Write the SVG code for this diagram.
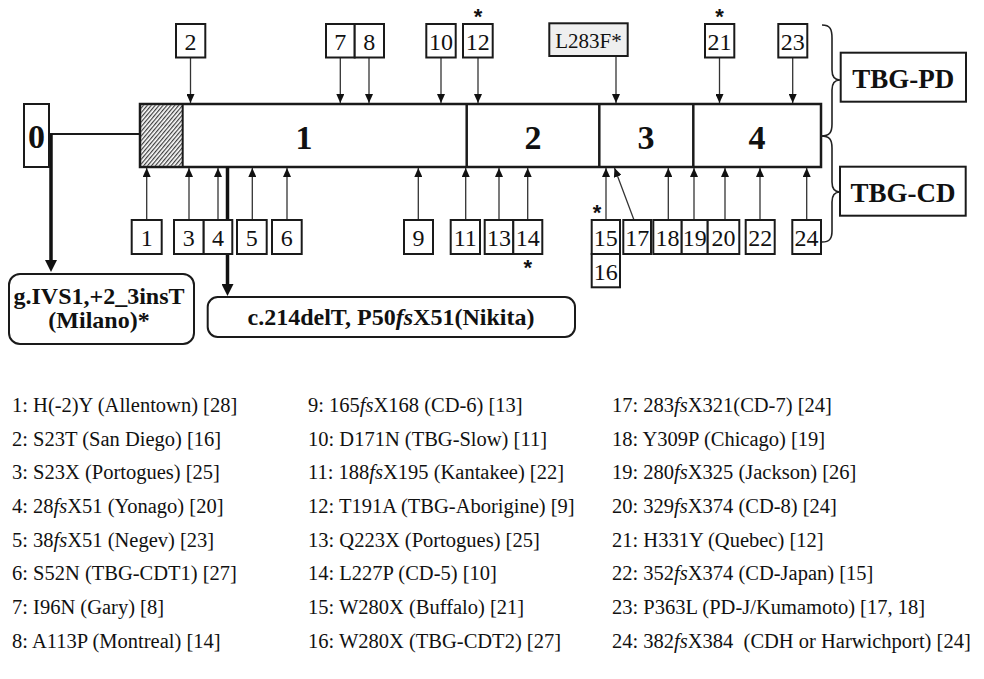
<svg xmlns="http://www.w3.org/2000/svg" width="984" height="679" viewBox="0 0 984 679">
<style>
.box{fill:#fff;stroke:#1a1a1a;stroke-width:2}
.gbox{fill:#efefef;stroke:#1a1a1a;stroke-width:2}
.rbox{fill:#fff;stroke:#1a1a1a;stroke-width:2}
.num{font-family:"Liberation Serif",serif;font-size:24px;text-anchor:middle;fill:#111}
.big{font-family:"Liberation Serif",serif;font-size:34px;font-weight:bold;text-anchor:middle;fill:#111}
.lab{font-family:"Liberation Serif",serif;font-size:27px;font-weight:bold;text-anchor:middle;fill:#111}
.mut{font-family:"Liberation Serif",serif;font-size:24px;font-weight:bold;text-anchor:middle;fill:#111}
.star{font-family:"Liberation Sans",sans-serif;font-size:22px;font-weight:bold;text-anchor:middle;fill:#111}
.leg{font-family:"Liberation Serif",serif;font-size:20.5px;fill:#111}
.it{font-style:italic}
.conn{stroke:#333;stroke-width:1.3;fill:none;marker-end:url(#ah)}
.thick{stroke:#111;stroke-width:3.5;fill:none;marker-end:url(#ahb)}
.line{stroke:#1a1a1a;stroke-width:2;fill:none}
.brace{stroke:#222;stroke-width:1.6;fill:none}
.bar{fill:#fff;stroke:#1a1a1a;stroke-width:2.5}
.div{stroke:#1a1a1a;stroke-width:2.5}
</style>
<defs>
<marker id="ah" markerUnits="userSpaceOnUse" markerWidth="9" markerHeight="8" refX="9" refY="4" orient="auto"><path d="M0,0 L9,4 L0,8 z" fill="#111"/></marker>
<marker id="ahb" markerUnits="userSpaceOnUse" markerWidth="12" markerHeight="12" refX="4" refY="6" orient="auto"><path d="M0,0 L12,6 L0,12 z" fill="#111"/></marker>
<pattern id="hatch" patternUnits="userSpaceOnUse" width="3" height="6" patternTransform="rotate(40)"><line x1="0.7" y1="0" x2="0.7" y2="6" stroke="#111" stroke-width="1"/></pattern>
</defs>

<g id="gene">
<rect class="bar" x="140" y="104" width="681" height="63"/>
<rect x="141.2" y="105.2" width="41.5" height="60.6" fill="url(#hatch)"/>
<line x1="182.7" y1="104" x2="182.7" y2="167" stroke="#1a1a1a" stroke-width="2"/>
<line class="div" x1="466.7" y1="104" x2="466.7" y2="167"/>
<line class="div" x1="599.3" y1="104" x2="599.3" y2="167"/>
<line class="div" x1="693.3" y1="104" x2="693.3" y2="167"/>
<text class="big" x="304" y="149">1</text>
<text class="big" x="533" y="149">2</text>
<text class="big" x="646" y="149">3</text>
<text class="big" x="757" y="149">4</text>
</g>

<g id="connectors">
<line class="line" x1="49" y1="134" x2="140" y2="134"/>
<path class="thick" d="M51,134 L51,264"/>
<path class="thick" d="M227.5,167 L227.5,288"/>
<path class="conn" d="M190.5,57 L190.5,103"/>
<path class="conn" d="M340.3,57 L340.3,103"/>
<path class="conn" d="M369,57 L369,103"/>
<path class="conn" d="M441,57 L441,103"/>
<path class="conn" d="M478,57 L478,103"/>
<path class="conn" d="M616,56 L616,103"/>
<path class="conn" d="M719.5,57 L719.5,103"/>
<path class="conn" d="M792.7,57 L792.7,103"/>
<path class="conn" d="M146.7,220 L146.7,168"/>
<path class="conn" d="M189,220 L189,168"/>
<path class="conn" d="M218,220 L218,168"/>
<path class="conn" d="M252.3,220 L252.3,168"/>
<path class="conn" d="M287,220 L287,168"/>
<path class="conn" d="M418.3,220 L418.3,168"/>
<path class="conn" d="M465.7,220 L465.7,168"/>
<path class="conn" d="M499,220 L499,168"/>
<path class="conn" d="M527.7,220 L527.7,168"/>
<path class="conn" d="M606,220 L606,168"/>
<path class="conn" d="M634,220 L614.5,168"/>
<path class="conn" d="M668.3,220 L668.3,168"/>
<path class="conn" d="M694,220 L694,168"/>
<path class="conn" d="M725,220 L725,168"/>
<path class="conn" d="M760,220 L760,168"/>
<path class="conn" d="M806.7,220 L806.7,168"/>
<path class="brace" d="M822,25 C830,25 832,29 832,38 L832,70 C832,77 835,80 840,80 C835,80 832,83 832,90 L832,124 C832,132 830,136 821,136"/>
<path class="brace" d="M821,136 C830,136 832,140 832,148 L832,182 C832,189 835,192 840,192 C835,192 832,195 832,202 L832,231 C832,238 830,242 822,242"/>
</g>

<g id="n0"><rect class="box" x="24" y="104" width="25" height="63"/><text class="big" x="36.5" y="148">0</text></g>

<g id="t2"><rect class="box" x="176" y="24" width="29.3" height="33.5"/><text class="num" x="190.6" y="50">2</text></g>
<g id="t7"><rect class="box" x="326" y="24" width="28.7" height="33.5"/><text class="num" x="340.3" y="50">7</text></g>
<g id="t8"><rect class="box" x="354.7" y="24" width="29.3" height="33.5"/><text class="num" x="369.3" y="50">8</text></g>
<g id="t10"><rect class="box" x="426.3" y="24" width="29.4" height="33.5"/><text class="num" x="441" y="50">10</text></g>
<g id="t12"><rect class="box" x="463" y="24" width="29.7" height="33.5"/><text class="num" x="477.8" y="50">12</text><text class="star" x="478" y="23.5">*</text></g>
<g id="tL283F"><rect class="gbox" x="549.3" y="23.3" width="78.4" height="32.7"/><text class="num" x="588.5" y="47.5" style="font-size:21px">L283F*</text></g>
<g id="t21"><rect class="box" x="705" y="24" width="29.3" height="33.5"/><text class="num" x="719.6" y="50">21</text><text class="star" x="719.5" y="23.5">*</text></g>
<g id="t23"><rect class="box" x="778.3" y="24" width="29" height="33.5"/><text class="num" x="792.8" y="50">23</text></g>

<g id="b1"><rect class="box" x="131.7" y="220" width="30" height="34"/><text class="num" x="146.7" y="246">1</text></g>
<g id="b3"><rect class="box" x="174" y="220" width="29.7" height="34"/><text class="num" x="188.8" y="246">3</text></g>
<g id="b4"><rect class="box" x="203.7" y="220" width="28.6" height="34"/><text class="num" x="218" y="246">4</text></g>
<g id="b5"><rect class="box" x="237" y="220" width="29.7" height="34"/><text class="num" x="251.8" y="246">5</text></g>
<g id="b6"><rect class="box" x="272" y="220" width="29.7" height="34"/><text class="num" x="286.8" y="246">6</text></g>
<g id="b9"><rect class="box" x="404" y="220" width="29" height="34"/><text class="num" x="418.5" y="246">9</text></g>
<g id="b11"><rect class="box" x="450.7" y="220" width="29.3" height="34"/><text class="num" x="465.3" y="246">11</text></g>
<g id="b13"><rect class="box" x="484.7" y="220" width="28.6" height="34"/><text class="num" x="499" y="246">13</text></g>
<g id="b14"><rect class="box" x="513.3" y="220" width="29" height="34"/><text class="num" x="527.8" y="246">14</text><text class="star" x="527.7" y="275">*</text></g>
<g id="b15"><rect class="box" x="591.7" y="220" width="28.3" height="34"/><text class="num" x="605.8" y="246">15</text><text class="star" x="597" y="219.5">*</text></g>
<g id="b16"><rect class="box" x="591.7" y="254" width="28.3" height="33.3"/><text class="num" x="605.8" y="279.5">16</text></g>
<g id="b17"><rect class="box" x="623.3" y="220" width="27.7" height="34"/><text class="num" x="637.2" y="246">17</text></g>
<g id="b18"><rect class="box" x="653.3" y="220" width="28.4" height="34"/><text class="num" x="667.5" y="246">18</text></g>
<g id="b19"><rect class="box" x="681.7" y="220" width="26" height="34"/><text class="num" x="694.7" y="246">19</text></g>
<g id="b20"><rect class="box" x="707.7" y="220" width="31.6" height="34"/><text class="num" x="723.5" y="246">20</text></g>
<g id="b22"><rect class="box" x="745.7" y="220" width="29" height="34"/><text class="num" x="760.2" y="246">22</text></g>
<g id="b24"><rect class="box" x="792.3" y="220" width="28.7" height="34"/><text class="num" x="806.6" y="246">24</text></g>

<g id="tbgpd"><rect class="box" x="840.7" y="52.7" width="125.3" height="49"/><text class="lab" x="903.3" y="88">TBG-PD</text></g>
<g id="tbgcd"><rect class="box" x="840" y="166.7" width="125.7" height="49"/><text class="lab" x="903" y="202">TBG-CD</text></g>

<g id="milano"><rect class="rbox" x="9" y="274" width="185" height="70" rx="11"/><text class="mut" x="99" y="304">g.IVS1,+2_3insT</text><text class="mut" x="99" y="328">(Milano)*</text></g>
<g id="nikita"><rect class="rbox" x="207.7" y="297" width="367.3" height="40" rx="10"/><text class="mut" x="391" y="325">c.214delT, P50<tspan class="it">fs</tspan>X51(Nikita)</text></g>

<g id="legend">
<text class="leg" x="12" y="412">1: H(-2)Y (Allentown) [28]</text>
<text class="leg" x="12" y="446">2: S23T (San Diego) [16]</text>
<text class="leg" x="12" y="479">3: S23X (Portogues) [25]</text>
<text class="leg" x="12" y="513">4: 28<tspan class="it">fs</tspan>X51 (Yonago) [20]</text>
<text class="leg" x="12" y="547">5: 38<tspan class="it">fs</tspan>X51 (Negev) [23]</text>
<text class="leg" x="12" y="580">6: S52N (TBG-CDT1) [27]</text>
<text class="leg" x="12" y="614">7: I96N (Gary) [8]</text>
<text class="leg" x="12" y="648">8: A113P (Montreal) [14]</text>
<text class="leg" x="308" y="412">9: 165<tspan class="it">fs</tspan>X168 (CD-6) [13]</text>
<text class="leg" x="308" y="446">10: D171N (TBG-Slow) [11]</text>
<text class="leg" x="308" y="479">11: 188<tspan class="it">fs</tspan>X195 (Kantakee) [22]</text>
<text class="leg" x="308" y="513">12: T191A (TBG-Aborigine) [9]</text>
<text class="leg" x="308" y="547">13: Q223X (Portogues) [25]</text>
<text class="leg" x="308" y="580">14: L227P (CD-5) [10]</text>
<text class="leg" x="308" y="614">15: W280X (Buffalo) [21]</text>
<text class="leg" x="308" y="648">16: W280X (TBG-CDT2) [27]</text>
<text class="leg" x="612" y="412">17: 283<tspan class="it">fs</tspan>X321(CD-7) [24]</text>
<text class="leg" x="612" y="446">18: Y309P (Chicago) [19]</text>
<text class="leg" x="612" y="479">19: 280<tspan class="it">fs</tspan>X325 (Jackson) [26]</text>
<text class="leg" x="612" y="513">20: 329<tspan class="it">fs</tspan>X374 (CD-8) [24]</text>
<text class="leg" x="612" y="547">21: H331Y (Quebec) [12]</text>
<text class="leg" x="612" y="580">22: 352<tspan class="it">fs</tspan>X374 (CD-Japan) [15]</text>
<text class="leg" x="612" y="614">23: P363L (PD-J/Kumamoto) [17, 18]</text>
<text class="leg" x="612" y="648">24: 382<tspan class="it">fs</tspan>X384 &#160;(CDH or Harwichport) [24]</text>
</g>
</svg>
